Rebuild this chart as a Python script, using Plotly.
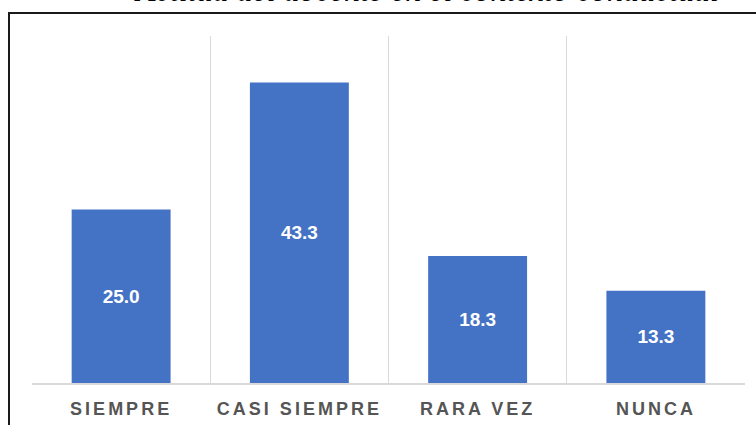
import plotly.graph_objects as go

categories = ["SIEMPRE", "CASI SIEMPRE", "RARA VEZ", "NUNCA"]
values = [25.0, 43.3, 18.3, 13.3]
title_text = "Actitud del docente en el contexto conductual"

W, H = 756, 425
ml, mr, mt, mb = 32, 11, 36, 42
pw = W - ml - mr
ph = H - mt - mb

def px_x(p):
    return (p - ml) / pw

def px_y(p):
    return (H - mb - p) / ph

fig = go.Figure(
    go.Bar(
        x=categories,
        y=values,
        width=0.555,
        marker=dict(color="#4472C4", line=dict(width=0)),
        texttemplate="%{y:.1f}",
        textposition="inside",
        insidetextanchor="middle",
        textfont=dict(family="Arial, Liberation Sans, sans-serif", size=19, color="white", weight="bold"),
        hoverinfo="skip",
    )
)

fig.update_layout(
    width=W,
    height=H,
    autosize=False,
    margin=dict(l=ml, r=mr, t=mt, b=mb, pad=0, autoexpand=False),
    paper_bgcolor="white",
    plot_bgcolor="white",
    showlegend=False,
    xaxis=dict(
        type="category",
        range=[-0.5, 3.5],
        tickson="boundaries",
        showgrid=True,
        gridcolor="#D9D9D9",
        gridwidth=1,
        showline=True,
        linecolor="#D9D9D9",
        linewidth=1.5,
        ticks="",
        tickfont=dict(family="Arial, Liberation Sans, sans-serif", size=18, color="#555555", weight="bold"),
        ticklabelstandoff=9,
        automargin=False,
        fixedrange=True,
    ),
    yaxis=dict(
        range=[0, 50],
        visible=False,
        showgrid=False,
        zeroline=False,
        automargin=False,
        fixedrange=True,
    ),
    annotations=[
        dict(
            text=title_text,
            xref="paper",
            yref="paper",
            x=px_x(426),
            y=px_y(9.5),
            xanchor="center",
            yanchor="bottom",
            showarrow=False,
            font=dict(family="Times New Roman, Liberation Serif, serif", size=32, color="black", style="italic"),
        )
    ],
    shapes=[
        dict(type="line", xref="paper", yref="paper",
             x0=px_x(9), x1=px_x(770), y0=px_y(13), y1=px_y(13),
             line=dict(color="#1a1a1a", width=2)),
        dict(type="line", xref="paper", yref="paper",
             x0=px_x(9), x1=px_x(9), y0=px_y(12), y1=px_y(440),
             line=dict(color="#1a1a1a", width=2)),
    ],
)

post = """
document.body.style.margin = '0';
document.body.style.padding = '0';
var gd = document.getElementById('{plot_id}');
function spaceTicks(){
  var ts = gd.querySelectorAll('.xtick text');
  ts.forEach(function(t){ t.style.letterSpacing = '3px'; });
}
spaceTicks();
gd.on('plotly_afterplot', spaceTicks);
"""

fig.write_html("out.html", post_script=post, config={"displayModeBar": False})
